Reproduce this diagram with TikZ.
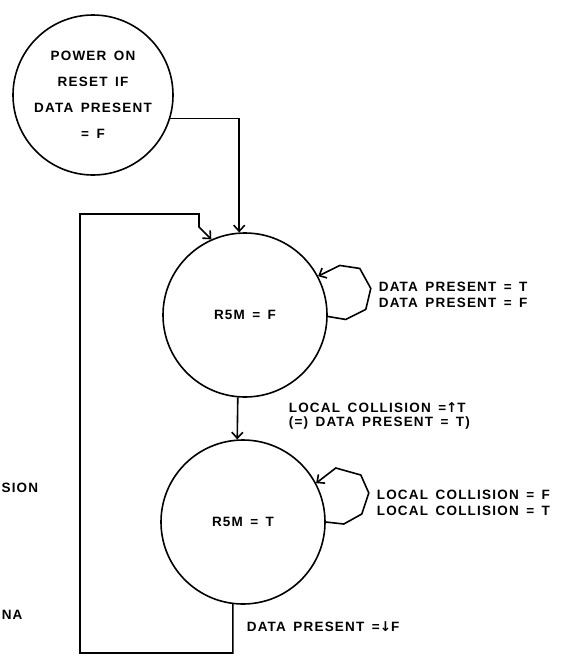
\documentclass[tikz,border=0pt]{standalone}
\usepackage{fontspec}
\newfontfamily\plotfont[LetterSpace=9,WordSpace=1.5]{Liberation Sans}
\newfontfamily\arrowfont{DejaVu Sans}
\usetikzlibrary{arrows.meta}

\begin{document}
\begin{tikzpicture}[x=1pt,y=-1pt,line width=1.6pt,>={Straight Barb[length=6pt,width=11pt]}]
	\tikzstyle{every node}+=[inner sep=0pt,font=\plotfont\bfseries\fontsize{13.5}{16}\selectfont]
	\tikzstyle{state}=[draw,circle,line width=1.6pt]
	\useasboundingbox (0,0) rectangle (588,656);
	\node [state,minimum size=160pt,align=center,font=\plotfont\bfseries\fontsize{13.5}{26}\selectfont] (pwr) at (93,95) {POWER ON\\RESET IF\\DATA PRESENT\\= F};
	\node [state,minimum size=164pt] (rsmf) at (245,315) {R5M = F};
	\node [state,minimum size=164pt] (rsmt) at (243,522) {R5M = T};
	\draw [->] (pwr.-17) -| (rsmf.94);
	\draw [->] (rsmf.-95) -- (rsmt.94);
	\draw [->] (rsmf.-1) -- ++(18,3) -- ++(20,-10) -- ++(5,-21) -- ++(-11,-20) -- ++(-20,-3) -- (rsmf.28);
	\draw [->] (rsmt.0) -- ++(18,2) -- ++(18,-10) -- ++(7,-21) -- ++(-8,-18) -- ++(-25,-7) -- (rsmt.28);
	\coordinate (fbbot) at (80,653);
	\coordinate (fbtop) at (80,214);
	\coordinate (fbknee) at (199,227);
	\draw [->] (rsmt.-97) |- (fbbot) -- (fbtop) -| (fbknee) -- (rsmf.114);
	\node [anchor=west,align=left] (dpft) at (378,295) {DATA PRESENT = T\\DATA PRESENT = F};
	\node [anchor=west,align=left,font=\plotfont\bfseries\fontsize{13.5}{13.5}\selectfont] (lcup) at (288,416) {LOCAL COLLISION ={\arrowfont\bfseries ↑}T\\(=) DATA PRESENT = T)};
	\node [anchor=west,align=left] (lcft) at (376,503) {LOCAL COLLISION = F\\LOCAL COLLISION = T};
	\node [anchor=west] (dpdown) at (246,627) {DATA PRESENT ={\arrowfont\bfseries ↓}F};
	\node [anchor=east] (sion) at (39,488) {SION};
	\node [anchor=west] (na) at (1,615) {NA};
\end{tikzpicture}
\end{document}
